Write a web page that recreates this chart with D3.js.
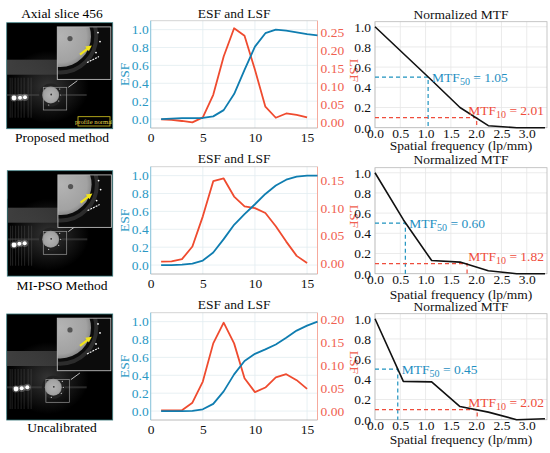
<!DOCTYPE html>
<html>
<head>
<meta charset="utf-8">
<script src="https://cdn.jsdelivr.net/npm/d3@7/dist/d3.min.js"></script>
<style>
  html, body { margin: 0; padding: 0; background: #fff; }
  svg { display: block; }
  svg text { font-family: "Liberation Serif", "DejaVu Serif", serif; }
</style>
</head>
<body>
<svg id="chart" width="550" height="453"></svg>
<script>
// ---------------- DATA ----------------
const rowLabels = ["Proposed method", "MI-PSO Method", "Uncalibrated"];
const sliceTitle = "Axial slice 456";
const esfX = [1,2,3,4,5,6,7,8,9,10,11,12,13,14,15,16];
const lsfX = [1,2,3,4,5,6,7,8,9,10,11,12,13,14,15];

const esf1 = [0.0,0.005,0.01,0.01,0.012,0.03,0.10,0.28,0.55,0.81,0.96,1.0,0.99,0.97,0.95,0.935];
const lsf1 = [0.0065,0.005,0.002,-0.002,0.012,0.075,0.182,0.261,0.240,0.145,0.042,0.011,0.023,0.019,0.012];

const esf2 = [0.0,0.0,0.004,0.015,0.05,0.14,0.29,0.45,0.57,0.68,0.795,0.89,0.955,0.99,1.0,1.0];
const lsf2 = [0.0024,0.003,0.007,0.030,0.085,0.149,0.154,0.121,0.103,0.100,0.091,0.067,0.039,0.013,0.0];

const esf3 = [0.0,0.0,0.0,0.003,0.02,0.08,0.22,0.41,0.56,0.64,0.69,0.745,0.82,0.90,0.955,1.0];
const lsf3 = [0.0015,0.0015,0.0015,0.018,0.064,0.147,0.192,0.147,0.071,0.041,0.051,0.073,0.080,0.067,0.048];

const mtfFreq = [0,0.56,1.12,1.68,2.24,2.80,3.36];
const mtf1 = [1.0,0.735,0.47,0.20,0.02,0.0,0.0];
const mtf2 = [1.0,0.535,0.13,0.115,0.03,0.0,0.0];
const mtf3 = [1.0,0.38,0.375,0.13,0.075,0.0,0.01];

const mtf50Vals = [1.05, 0.60, 0.45];
const mtf10Vals = [2.01, 1.82, 2.02];

const esfTicks = [0,0.2,0.4,0.6,0.8,1.0];
const lsfTicks = [[0,0.05,0.10,0.15,0.20,0.25],[0,0.05,0.10,0.15],[0,0.05,0.10,0.15,0.20]];
const sampleTicks = [0,5,10,15];
const mtfYTicks = [0,0.2,0.4,0.6,0.8,1.0];
const mtfXTicks = [0,0.5,1.0,1.5,2.0,2.5,3.0];

const esfAll = [esf1, esf2, esf3];
const lsfAll = [lsf1, lsf2, lsf3];
const mtfAll = [mtf1, mtf2, mtf3];

// ---------------- LAYOUT ----------------
const svg = d3.select("#chart");
const rowOff = [0, 146, 292];
const lsfDomains = [[-0.0176, 0.282], [-0.020, 0.1754], [-0.0196, 0.2137]];
const esfTitleY = [18, 163, 309];
const mtfTitleY = [19, 164, 311];
const mtfXLabelY = [149.7, 299, 444];

const BLUE = "#0f7db0", RED = "#ef4b2f";
const BLUE_TXT = "#2a98c4", RED_TXT = "#f0604f";
const FS = 13.5;

function fmt1(v){ return d3.format(".1f")(v); }
function fmt2(v){ return d3.format(".2f")(v); }

// ---------- CT image (illustrative decoration) ----------
const defs = svg.append("defs");
const rg = defs.append("radialGradient").attr("id","disc");
rg.append("stop").attr("offset","0%").attr("stop-color","#b4b4b4");
rg.append("stop").attr("offset","85%").attr("stop-color","#a2a2a2");
rg.append("stop").attr("offset","100%").attr("stop-color","#8a8a8a");
const hg = defs.append("radialGradient").attr("id","halo");
hg.append("stop").attr("offset","0%").attr("stop-color","#3a3a3a");
hg.append("stop").attr("offset","100%").attr("stop-color","#000");
const bg = defs.append("linearGradient").attr("id","band").attr("x1",0).attr("x2",1);
bg.append("stop").attr("offset","0%").attr("stop-color","#4a4a4a");
bg.append("stop").attr("offset","70%").attr("stop-color","#3c3c3c");
bg.append("stop").attr("offset","100%").attr("stop-color","#1a1a1a");

const ctParams = [
  {x:6.7, y:22.7, s:106, ph:[44,72.3], dots:[[7.3,75.3],[13.3,75],[18.3,74.6]], profile:true},
  {x:7.3, y:170.7, s:105.4, ph:[43.4,68.6], dots:[[6.7,74.3],[12,73],[17.4,72.6]], profile:false},
  {x:6.7, y:314, s:106, ph:[46.6,73.3], dots:[[9.3,75],[15,74.3],[20.6,73.3]], profile:false}
];

function drawCT(i){
  const p = ctParams[i];
  const cid = "ctclip"+i;
  defs.append("clipPath").attr("id",cid).append("rect").attr("width",p.s).attr("height",p.s);
  const g = svg.append("g").attr("transform",`translate(${p.x},${p.y})`);
  const c = g.append("g").attr("clip-path",`url(#${cid})`);
  c.append("rect").attr("width",p.s).attr("height",p.s).attr("fill","#000");
  c.append("rect").attr("x",0).attr("y",28).attr("width",82).attr("height",72).attr("fill","url(#halo)").attr("opacity",0.9);
  c.append("rect").attr("x",0).attr("y",37).attr("width",68).attr("height",15).attr("fill","url(#band)").attr("opacity",0.85);
  [3,5,8,11,14,17,21,24].forEach(sx => {
    c.append("rect").attr("x",sx).attr("y",55).attr("width",0.8).attr("height",40).attr("fill","#555").attr("opacity",0.5);
  });
  c.append("rect").attr("x",0).attr("y",p.ph[1]-1).attr("width",80).attr("height",2).attr("fill","#444").attr("opacity",0.6);
  c.append("circle").attr("cx",p.ph[0]).attr("cy",p.ph[1]).attr("r",11.5).attr("fill","#222");
  c.append("circle").attr("cx",p.ph[0]).attr("cy",p.ph[1]).attr("r",8.5).attr("fill","url(#disc)");
  c.append("circle").attr("cx",p.ph[0]+0.5).attr("cy",p.ph[1]-0.5).attr("r",0.9).attr("fill","#333");
  [[9,-6],[10,0],[8,6],[-2,10]].forEach(d => {
    c.append("circle").attr("cx",p.ph[0]+d[0]).attr("cy",p.ph[1]+d[1]).attr("r",0.6).attr("fill","#ddd");
  });
  c.append("rect").attr("x",p.ph[0]-7.4).attr("y",p.ph[1]-7.7).attr("width",23.4).attr("height",22.7)
    .attr("fill","none").attr("stroke","#999").attr("stroke-width",0.7);
  c.append("line").attr("x1",p.ph[0]+17.6).attr("y1",p.ph[1]-7.7).attr("x2",p.ph[0]+26.6).attr("y2",p.ph[1]-14.3)
    .attr("stroke","#ccc").attr("stroke-width",0.9);
  p.dots.forEach((d,k) => {
    c.append("circle").attr("cx",d[0]).attr("cy",d[1]).attr("r",k===0?2.4:2).attr("fill","#fff");
    c.append("circle").attr("cx",d[0]).attr("cy",d[1]).attr("r",3.6).attr("fill","#fff").attr("opacity",0.25);
  });
  const ix = 50.6, iy = 4.2, iw = 53.5, ih = 52.5;
  defs.append("clipPath").attr("id",cid+"i").append("rect").attr("width",iw).attr("height",ih);
  const ig = c.append("g").attr("transform",`translate(${ix},${iy})`);
  const ic = ig.append("g").attr("clip-path",`url(#${cid}i)`);
  ic.append("rect").attr("width",iw).attr("height",ih).attr("fill","#0c0c0c");
  ic.append("circle").attr("cx",3).attr("cy",9.5).attr("r",36).attr("fill","none").attr("stroke","#2c2c2c").attr("stroke-width",4);
  ic.append("circle").attr("cx",3).attr("cy",9.5).attr("r",30.7).attr("fill","url(#disc)");
  ic.append("circle").attr("cx",12.7).attr("cy",11.7).attr("r",2.6).attr("fill","#555");
  [[40.7,5.7],[42.7,14.7],[38.7,25.7]].forEach(d => {
    ic.append("circle").attr("cx",d[0]).attr("cy",d[1]).attr("r",0.9).attr("fill","#fff");
  });
  ic.append("line").attr("x1",29.7).attr("y1",35.7).attr("x2",41.7).attr("y2",29.7)
    .attr("stroke","#fff").attr("stroke-width",1.1).attr("stroke-dasharray","2,1");
  ic.append("line").attr("x1",22.7).attr("y1",27.7).attr("x2",31).attr("y2",21.2)
    .attr("stroke","#f2e51a").attr("stroke-width",2.2);
  ic.append("path").attr("d","M34.5,18.5 L27.8,19.6 L31.6,24.4 Z").attr("fill","#f2e51a");
  ig.append("rect").attr("width",iw).attr("height",ih).attr("fill","none").attr("stroke","#bbb").attr("stroke-width",0.9);
  if (p.profile) {
    c.append("rect").attr("x",71.3).attr("y",94).attr("width",32).attr("height",9.3)
      .attr("fill","#000").attr("stroke","#d8c820").attr("stroke-width",0.8);
    c.append("text").attr("x",87.3).attr("y",100.9).attr("text-anchor","middle")
      .attr("font-size",6.6).attr("fill","#e8d84a").text("profile normal");
  }
  g.append("rect").attr("width",p.s).attr("height",p.s).attr("fill","none").attr("stroke","#2d6e72").attr("stroke-width",0.8);
}

svg.append("text").attr("x",62).attr("y",18).attr("text-anchor","middle").attr("font-size",FS).text(sliceTitle);
const labelY = [142, 290, 432];
rowLabels.forEach((t,i) => {
  drawCT(i);
  svg.append("text").attr("x",62).attr("y",labelY[i]).attr("text-anchor","middle").attr("font-size",FS).text(t);
});

// ---------- ESF / LSF panels ----------
function drawESF(i){
  const top = 20.7 + rowOff[i], bot = 128 + rowOff[i];
  const L = 150.7, R = 317.5;
  const x = d3.scaleLinear().domain([0,16]).range([L,R]);
  const yl = d3.scaleLinear().domain([-0.1,1.1]).range([bot,top]);
  const yr = d3.scaleLinear().domain(lsfDomains[i]).range([bot,top]);
  const g = svg.append("g");
  g.append("g").selectAll("line").data(sampleTicks).join("line")
    .attr("x1",d=>x(d)).attr("x2",d=>x(d)).attr("y1",top).attr("y2",bot)
    .attr("stroke","#e2ecf0").attr("stroke-width",0.8);
  g.append("g").selectAll("line").data(esfTicks).join("line")
    .attr("x1",L).attr("x2",R).attr("y1",d=>yl(d)).attr("y2",d=>yl(d))
    .attr("stroke","#e2ecf0").attr("stroke-width",0.8);
  g.append("line").attr("x1",L).attr("x2",R).attr("y1",top).attr("y2",top).attr("stroke","#c8c8c8").attr("stroke-width",0.8);
  g.append("line").attr("x1",L).attr("x2",R).attr("y1",bot).attr("y2",bot).attr("stroke","#a8a8a8").attr("stroke-width",0.8);
  g.append("line").attr("x1",L).attr("x2",L).attr("y1",top).attr("y2",bot).attr("stroke","#7fc0d8").attr("stroke-width",0.9);
  g.append("line").attr("x1",R).attr("x2",R).attr("y1",top).attr("y2",bot).attr("stroke","#f5a092").attr("stroke-width",0.9);
  const ax = g.append("g").attr("transform",`translate(0,${bot})`)
    .call(d3.axisBottom(x).tickValues(sampleTicks).tickSize(0).tickPadding(4).tickFormat(d3.format("d")));
  ax.select(".domain").remove();
  ax.selectAll("text").attr("font-size",FS).attr("fill","#111");
  const al = g.append("g").attr("transform",`translate(${L},0)`)
    .call(d3.axisLeft(yl).tickValues(esfTicks).tickSize(0).tickPadding(2).tickFormat(fmt1));
  al.select(".domain").remove();
  al.selectAll("text").attr("font-size",FS).attr("fill",BLUE_TXT);
  const ar = g.append("g").attr("transform",`translate(${R},0)`)
    .call(d3.axisRight(yr).tickValues(lsfTicks[i]).tickSize(0).tickPadding(3).tickFormat(fmt2));
  ar.select(".domain").remove();
  ar.selectAll("text").attr("font-size",FS).attr("fill",RED_TXT);
  const lineE = d3.line().x((d,k)=>x(esfX[k])).y(d=>yl(d));
  const lineL = d3.line().x((d,k)=>x(lsfX[k])).y(d=>yr(d));
  g.append("path").attr("d",lineL(lsfAll[i])).attr("fill","none").attr("stroke",RED).attr("stroke-width",1.8).attr("stroke-linejoin","round");
  g.append("path").attr("d",lineE(esfAll[i])).attr("fill","none").attr("stroke",BLUE).attr("stroke-width",1.8).attr("stroke-linejoin","round");
  g.append("text").attr("x",(L+R)/2).attr("y",esfTitleY[i]).attr("text-anchor","middle").attr("font-size",FS).attr("fill","#111").text("ESF and LSF");
  g.append("text").attr("transform",`translate(${128.5},${(top+bot)/2}) rotate(-90)`).attr("text-anchor","middle")
    .attr("font-size",FS).attr("fill",BLUE_TXT).text("ESF");
  g.append("text").attr("transform",`translate(${350},${(top+bot)/2 - 4}) rotate(90)`).attr("text-anchor","middle")
    .attr("font-size",FS).attr("fill",RED_TXT).text("LSF");
}

// ---------- MTF panels ----------
function drawMTF(i){
  const bot = 127.7 + rowOff[i], top = bot - 106;
  const L = 375, R = 547;
  const x = d3.scaleLinear().domain([0,3.4]).range([L,R]);
  const y = d3.scaleLinear().domain([0,1.05]).range([bot,top]);
  const g = svg.append("g");
  g.append("rect").attr("x",L).attr("y",top).attr("width",R-L).attr("height",bot-top).attr("fill","#fff");
  g.append("g").selectAll("line").data(mtfXTicks).join("line")
    .attr("x1",d=>x(d)).attr("x2",d=>x(d)).attr("y1",top).attr("y2",bot)
    .attr("stroke","#e6e6e6").attr("stroke-width",0.8);
  g.append("g").selectAll("line").data(mtfYTicks).join("line")
    .attr("x1",L).attr("x2",R).attr("y1",d=>y(d)).attr("y2",d=>y(d))
    .attr("stroke","#e6e6e6").attr("stroke-width",0.8);
  g.append("rect").attr("x",L).attr("y",top).attr("width",R-L).attr("height",bot-top)
    .attr("fill","none").attr("stroke","#b8b8b8").attr("stroke-width",0.8);
  const ax = g.append("g").attr("transform",`translate(0,${bot})`)
    .call(d3.axisBottom(x).tickValues(mtfXTicks).tickSize(0).tickPadding(1).tickFormat(fmt1));
  ax.select(".domain").remove();
  ax.selectAll("text").attr("font-size",FS).attr("fill","#111");
  const al = g.append("g").attr("transform",`translate(${L},0)`)
    .call(d3.axisLeft(y).tickValues(mtfYTicks).tickSize(0).tickPadding(4).tickFormat(fmt1));
  al.select(".domain").remove();
  al.selectAll("text").attr("font-size",FS).attr("fill","#111");
  const m50 = mtf50Vals[i], m10 = mtf10Vals[i];
  g.append("path").attr("d",`M${x(0)},${y(0.5)}H${x(m50)}V${y(0)}`)
    .attr("fill","none").attr("stroke","#1f93bf").attr("stroke-width",1.2).attr("stroke-dasharray","4,3");
  g.append("path").attr("d",`M${x(0)},${y(0.1)}H${x(m10)}V${y(0)}`)
    .attr("fill","none").attr("stroke","#ef4d3c").attr("stroke-width",1.2).attr("stroke-dasharray","4,3");
  const line = d3.line().x((d,k)=>x(mtfFreq[k])).y(d=>y(d));
  g.append("path").attr("d",line(mtfAll[i])).attr("fill","none").attr("stroke","#111").attr("stroke-width",1.6).attr("stroke-linejoin","round");
  const t50 = g.append("text").attr("x",x(m50)+4).attr("y",y(0.5)+5).attr("font-size",FS).attr("fill","#1f8fc2");
  t50.append("tspan").text("MTF");
  t50.append("tspan").attr("font-size",10).attr("dy",3).text("50");
  t50.append("tspan").attr("dy",-3).text(" = " + fmt2(m50));
  const t10 = g.append("text").attr("x",R-3).attr("y",y(0.1)-3).attr("text-anchor","end").attr("font-size",FS).attr("fill","#ef4d3c");
  t10.append("tspan").text("MTF");
  t10.append("tspan").attr("font-size",10).attr("dy",3).text("10");
  t10.append("tspan").attr("dy",-3).text(" = " + fmt2(m10));
  g.append("text").attr("x",(L+R)/2).attr("y",mtfTitleY[i]).attr("text-anchor","middle").attr("font-size",FS).attr("fill","#111").text("Normalized MTF");
  g.append("text").attr("x",461).attr("y",mtfXLabelY[i]).attr("text-anchor","middle").attr("font-size",FS).attr("fill","#111").text("Spatial frequency (lp/mm)");
}

[0,1,2].forEach(i => drawESF(i));
[0,1,2].forEach(i => drawMTF(i));
</script>
</body>
</html>
